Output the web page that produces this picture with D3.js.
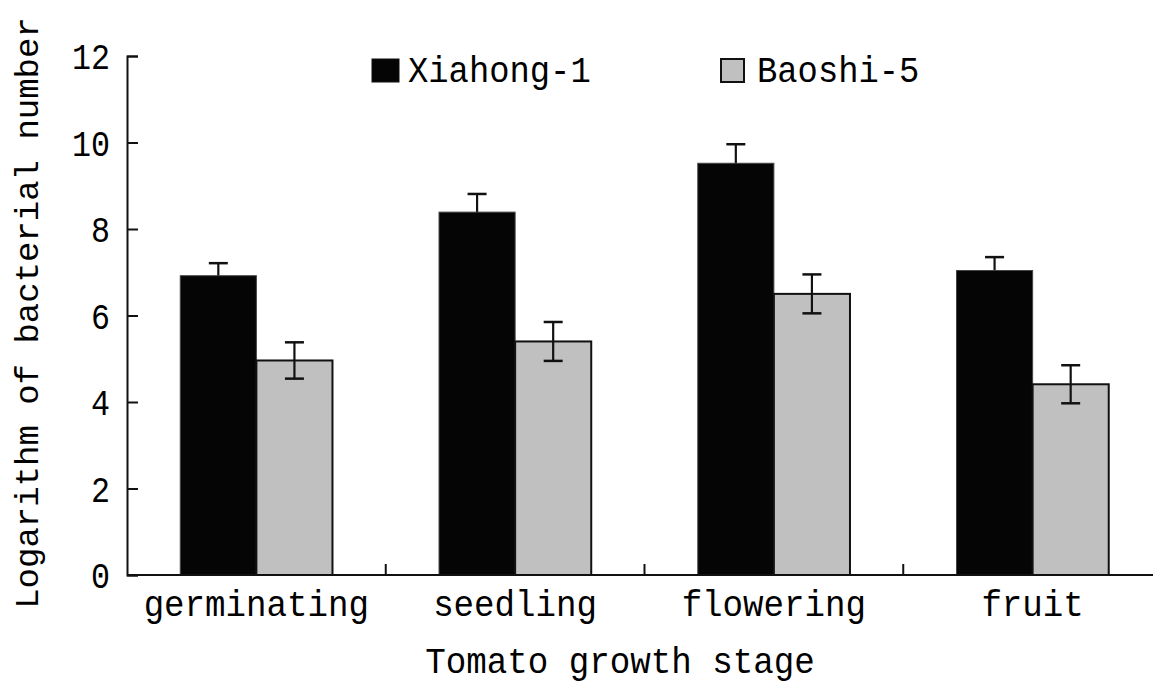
<!DOCTYPE html>
<html>
<head>
<meta charset="utf-8">
<script src="https://cdn.jsdelivr.net/npm/d3@7"></script>
<style>
  body { margin: 0; background: #fff; }
  text { font-family: "Liberation Mono", "DejaVu Sans Mono", monospace; fill: #000; }
</style>
</head>
<body>
<div id="chart"></div>
<script>
// data
var stages = ["germinating", "seedling", "flowering", "fruit"];
var seriesNames = ["Xiahong-1", "Baoshi-5"];
var xiahong = [6.92, 8.39, 9.52, 7.04];
var xiahongErr = [0.29, 0.42, 0.44, 0.31];
var baoshi = [4.96, 5.40, 6.50, 4.41];
var baoshiErr = [0.42, 0.45, 0.45, 0.44];
var yTicks = [0, 2, 4, 6, 8, 10, 12];

function drawChart() {
    let div_id = "#chart";
    let win_width = 1153;
    let win_height = 685;

    let svg = d3.select(div_id)
        .append("svg")
        .attr("width", win_width)
        .attr("height", win_height);

    // plot area (right end runs off the picture)
    let left = 127, right = 1162, top = 56, bottom = 575;

    let rows = [];
    stages.forEach(function(s, i) {
        rows.push({stage: s, series: seriesNames[0], value: xiahong[i], err: xiahongErr[i]});
        rows.push({stage: s, series: seriesNames[1], value: baoshi[i], err: baoshiErr[i]});
    });

    let x0 = d3.scaleBand().domain(stages).range([left, right]).padding(0);
    let x1 = d3.scaleBand().domain(seriesNames).range([0, x0.bandwidth()])
        .paddingInner(0).paddingOuter(0.7);
    let y = d3.scaleLinear().domain([0, 12]).range([bottom, top]);

    let color = d3.scaleOrdinal().domain(seriesNames).range(["#050505", "#c0c0c0"]);

    // error bars first, so the black bars hide their lower half
    let eb = svg.append("g").selectAll("g")
        .data(rows)
        .join("g")
        .attr("transform", function(d) {
            return "translate(" + (x0(d.stage) + x1(d.series) + x1.bandwidth() / 2) + ",0)";
        });
    eb.append("line")
        .attr("y1", function(d) { return y(d.value - d.err); })
        .attr("y2", function(d) { return y(d.value + d.err); })
        .attr("stroke", "#111").attr("stroke-width", 2.2);
    eb.append("line")
        .attr("x1", -9.5).attr("x2", 9.5)
        .attr("y1", function(d) { return y(d.value + d.err); })
        .attr("y2", function(d) { return y(d.value + d.err); })
        .attr("stroke", "#111").attr("stroke-width", 2.5);

    // bars
    svg.append("g")
        .selectAll("rect")
        .data(rows)
        .join("rect")
        .attr("x", function(d) { return x0(d.stage) + x1(d.series); })
        .attr("y", function(d) { return y(d.value); })
        .attr("width", x1.bandwidth())
        .attr("height", function(d) { return y(0) - y(d.value); })
        .attr("fill", function(d) { return color(d.series); })
        .attr("stroke", function(d) { return d.series == seriesNames[0] ? "#444" : "#111"; })
        .attr("stroke-width", function(d) { return d.series == seriesNames[0] ? 1 : 2; });

    // error bars of the grey bars are drawn over them
    let eb2 = svg.append("g").selectAll("g")
        .data(rows.filter(function(d) { return d.series == seriesNames[1]; }))
        .join("g")
        .attr("transform", function(d) {
            return "translate(" + (x0(d.stage) + x1(d.series) + x1.bandwidth() / 2) + ",0)";
        });
    eb2.append("line")
        .attr("y1", function(d) { return y(d.value - d.err); })
        .attr("y2", function(d) { return y(d.value); })
        .attr("stroke", "#111").attr("stroke-width", 2.2);
    eb2.append("line")
        .attr("x1", -9.5).attr("x2", 9.5)
        .attr("y1", function(d) { return y(d.value - d.err); })
        .attr("y2", function(d) { return y(d.value - d.err); })
        .attr("stroke", "#111").attr("stroke-width", 2.5);

    // Y axis, ticks point inward
    let yAxis = svg.append("g")
        .attr("transform", "translate(" + left + ",0)")
        .call(d3.axisRight(y).tickValues(yTicks).tickSize(11).tickFormat(""));
    yAxis.select(".domain").attr("stroke", "#111").attr("stroke-width", 2);
    yAxis.selectAll(".tick line").attr("stroke", "#111").attr("stroke-width", 2);

    svg.append("g")
        .selectAll("text")
        .data(yTicks)
        .join("text")
        .attr("x", 110)
        .attr("y", function(d) { return y(d) + 13; })
        .attr("text-anchor", "end")
        .attr("font-size", 37)
        .attr("textLength", function(d) { return String(d).length * 19; })
        .attr("lengthAdjust", "spacingAndGlyphs")
        .text(function(d) { return d; });

    // X axis with separators between stages
    let edges = stages.map(function(s) { return x0(s); }).concat([right]);
    svg.append("line")
        .attr("x1", left).attr("x2", win_width)
        .attr("y1", bottom).attr("y2", bottom)
        .attr("stroke", "#111").attr("stroke-width", 2);
    svg.append("g")
        .selectAll("line")
        .data(edges.slice(1))
        .join("line")
        .attr("x1", function(d) { return d; })
        .attr("x2", function(d) { return d; })
        .attr("y1", bottom).attr("y2", bottom - 11)
        .attr("stroke", "#111").attr("stroke-width", 2);

    svg.append("g")
        .selectAll("text")
        .data(stages)
        .join("text")
        .attr("x", function(d) { return x0(d) + x0.bandwidth() / 2; })
        .attr("y", 616)
        .attr("text-anchor", "middle")
        .attr("font-size", 37)
        .attr("textLength", function(d) { return d.length * 20.5; })
        .attr("lengthAdjust", "spacingAndGlyphs")
        .text(function(d) { return d; });

    // axis titles
    svg.append("text")
        .attr("x", 620)
        .attr("y", 673)
        .attr("text-anchor", "middle")
        .attr("font-size", 36)
        .attr("textLength", 19 * 20.5)
        .attr("lengthAdjust", "spacingAndGlyphs")
        .text("Tomato growth stage");

    svg.append("text")
        .attr("transform", "translate(38,313) rotate(-90)")
        .attr("text-anchor", "middle")
        .attr("font-size", 34)
        .attr("textLength", 29 * 20.4)
        .attr("lengthAdjust", "spacingAndGlyphs")
        .text("Logarithm of bacterial number");

    // legend
    let legendX = [372, 720];
    let legendTextX = [408, 757];
    let legend = svg.append("g");
    legend.selectAll("rect")
        .data(seriesNames)
        .join("rect")
        .attr("x", function(d, i) { return legendX[i] + (i == 0 ? 0 : 1); })
        .attr("y", 59)
        .attr("width", function(d, i) { return i == 0 ? 27 : 23; })
        .attr("height", 23)
        .attr("fill", function(d) { return color(d); })
        .attr("stroke", "#111")
        .attr("stroke-width", function(d, i) { return i == 0 ? 1 : 2; });
    legend.selectAll("text")
        .data(seriesNames)
        .join("text")
        .attr("x", function(d, i) { return legendTextX[i]; })
        .attr("y", 82)
        .attr("font-size", 37)
        .attr("textLength", function(d) { return d.length * 20.3; })
        .attr("lengthAdjust", "spacingAndGlyphs")
        .text(function(d) { return d; });
}

drawChart();
</script>
</body>
</html>
